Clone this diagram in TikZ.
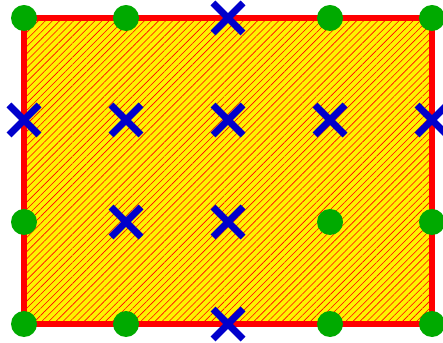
\documentclass[tikz,border=0pt]{standalone}
\usetikzlibrary{patterns.meta,shapes.misc}
\definecolor{dotgreen}{RGB}{0,170,0}
\definecolor{crossblue}{RGB}{0,0,204}
\tikzset{
  dot/.style={circle,fill=dotgreen,minimum size=26pt,inner sep=0pt},
  xmark/.style={cross out,draw=crossblue,line width=7pt,minimum size=23pt,inner sep=0pt},
}
\begin{document}
\begin{tikzpicture}[x=1pt,y=1pt]
\useasboundingbox (0,0) rectangle (443,342);
\fill[yellow] (24,18) rectangle (432,324);
\fill[pattern={Lines[angle=45,distance=5pt,line width=0.6pt]},pattern color=red] (24,18) rectangle (432,324);
\draw[red,line width=6pt] (24,18) rectangle (432,324);
% top row
\node[dot] (a1) at (24,324) {};
\node[dot] (a2) at (126,324) {};
\node[xmark] (a3) at (228,324) {};
\node[dot] (a4) at (330,324) {};
\node[dot] (a5) at (432,324) {};
% second row
\node[xmark] (b1) at (24,222) {};
\node[xmark] (b2) at (126,222) {};
\node[xmark] (b3) at (228,222) {};
\node[xmark] (b4) at (330,222) {};
\node[xmark] (b5) at (432,222) {};
% third row
\node[dot] (c1) at (24,120) {};
\node[xmark] (c2) at (126,120) {};
\node[xmark] (c3) at (228,120) {};
\node[dot] (c4) at (330,120) {};
\node[dot] (c5) at (432,120) {};
% bottom row
\node[dot] (d1) at (24,18) {};
\node[dot] (d2) at (126,18) {};
\node[xmark] (d3) at (228,18) {};
\node[dot] (d4) at (330,18) {};
\node[dot] (d5) at (432,18) {};
\end{tikzpicture}
\end{document}
